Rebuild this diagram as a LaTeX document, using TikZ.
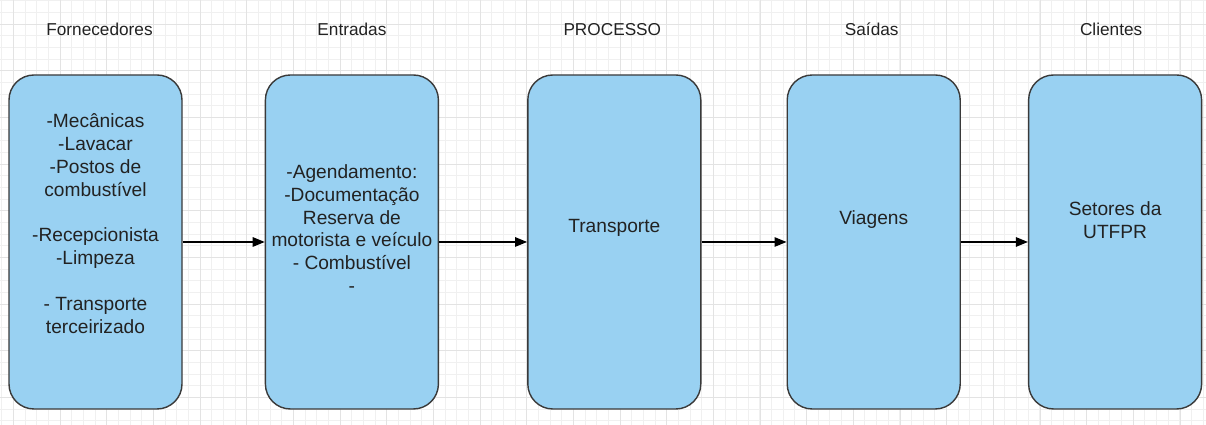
\documentclass[tikz,border=0pt]{standalone}
\usepackage{fontspec}
\setmainfont{Liberation Sans}
\usetikzlibrary{arrows.meta, positioning}
\definecolor{boxblue}{RGB}{153,209,242}
\definecolor{boxline}{RGB}{58,58,58}
\definecolor{inktext}{RGB}{34,34,34}

\begin{document}
\begin{tikzpicture}[
    every node/.style={text=inktext},
    box/.style={rectangle, draw=boxline, line width=0.8pt, fill=boxblue, rounded corners=0.5cm, minimum width=3.46cm, minimum height=6.68cm},
    head/.style={font=\fontsize{9.8}{12}\selectfont, inner sep=0pt},
    body/.style={font=\fontsize{10.9}{13}\selectfont, align=center, inner sep=0pt},
    arrow/.style={-{Triangle[length=0.24cm, width=0.19cm]}, line width=0.7pt}
]
\useasboundingbox (0,0) rectangle (24.12,8.5);
\fill[white] (0,0) rectangle (24.12,8.5);
\begin{scope}
    \clip (0,0) rectangle (24.12,8.5);
    \draw[gray!12, line width=0.5pt, step=0.2333, shift={(0.267,0.553)}] (-1,-1) grid (25,9);
    \draw[gray!22, line width=0.5pt, step=0.9333, shift={(0.267,0.553)}] (-1,-1) grid (25,9);
\end{scope}

\node[box] (forn) at (1.91,3.66) {};
\node[box, right=1.64cm of forn] (entr) {};
\node[box, right=1.76cm of entr] (proc) {};
\node[box, right=1.70cm of proc] (said) {};
\node[box, right=1.34cm of said] (clie) {};

\node[head, above=0.77cm of forn, xshift=0.08cm] (hforn) {Fornecedores};
\node[head, above=0.77cm of entr] (hentr) {Entradas};
\node[head, above=0.77cm of proc, xshift=-0.04cm] (hproc) {PROCESSO};
\node[head, above=0.77cm of said, xshift=-0.04cm] (hsaid) {Saídas};
\node[head, above=0.77cm of clie, xshift=-0.08cm] (hclie) {Clientes};

\node[body] (tforn) at ([yshift=0.37cm]forn.center) {-Mecânicas\\-Lavacar\\-Postos de\\combustível\\[13pt]-Recepcionista\\-Limpeza\\[13pt]- Transporte\\terceirizado};
\node[body] (tentr) at ([yshift=0.27cm]entr.center) {-Agendamento:\\-Documentação\\Reserva de\\motorista e veículo\\- Combustível\\-};
\node[body] (tproc) at ([yshift=0.28cm]proc.center) {Transporte};
\node[body] (tsaid) at ([yshift=0.44cm]said.center) {Viagens};
\node[body] (tclie) at ([yshift=0.43cm]clie.center) {Setores da\\UTFPR};

\draw[arrow] (forn) -- (entr);
\draw[arrow] (entr) -- (proc);
\draw[arrow] (proc) -- (said);
\draw[arrow] (said) -- (clie);
\end{tikzpicture}
\end{document}
